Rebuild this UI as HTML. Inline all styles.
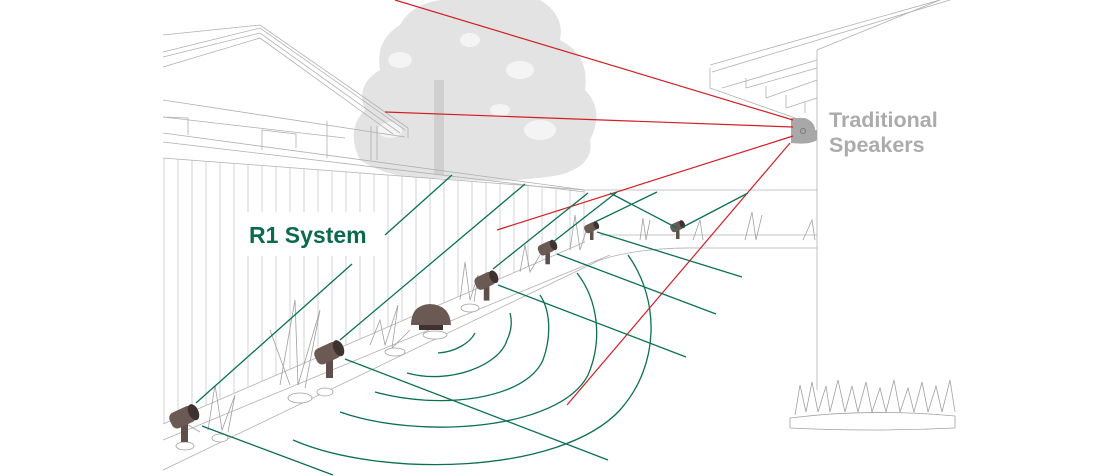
<!DOCTYPE html>
<html><head><meta charset="utf-8"><style>
html,body{margin:0;padding:0;background:#fff;}
svg{display:block;}
</style></head><body>
<svg width="1110" height="476" viewBox="0 0 1110 476" xmlns="http://www.w3.org/2000/svg">
<defs>
<pattern id="planks" x="163" y="0" width="14" height="476" patternUnits="userSpaceOnUse">
<line x1="1" y1="0" x2="1" y2="476" stroke="#c0c0c0" stroke-width="0.7"/>
</pattern>
<clipPath id="fc"><polygon points="163,158 585,190 585,242 163,424"/></clipPath>
<g id="spk">
<rect x="-4" y="0" width="7" height="22" fill="#5e4f4a"/>
<g transform="rotate(-25)"><rect x="-14" y="-12" width="26" height="17" rx="6" fill="#6b5a54"/>
<ellipse cx="11" cy="-3.5" rx="5" ry="8.5" fill="#3e3230"/></g>
</g>
</defs>
<!-- tree -->
<g fill="#e3e3e3">
<path d="M360,160 Q345,130 365,110 Q355,85 380,70 Q375,40 400,25 Q410,5 440,0 L540,0 Q565,15 560,40 Q590,55 585,90 Q605,110 590,140 Q595,165 560,175 Q500,185 440,178 Q390,180 360,160 Z"/>
</g>
<g fill="#f4f4f4">
<ellipse cx="400" cy="60" rx="12" ry="8"/><ellipse cx="520" cy="70" rx="14" ry="9"/>
<ellipse cx="470" cy="40" rx="10" ry="7"/><ellipse cx="540" cy="130" rx="16" ry="10"/>
<ellipse cx="390" cy="130" rx="12" ry="8"/><ellipse cx="500" cy="110" rx="10" ry="6"/>
</g>
<rect x="434" y="80" width="10" height="95" fill="#d0d0d0"/>
<!-- house left -->
<g stroke="#b0b0b0" stroke-width="0.8" fill="none">
<polyline points="163,35 260,25 408,128 408,138"/>
<polyline points="163,52 260,28 405,130"/>
<polyline points="163,57 260,33 400,133"/>
<polyline points="163,67 260,38 393,134"/>
<line x1="163" y1="100" x2="405" y2="137"/>
<line x1="163" y1="117" x2="345" y2="138"/>
<polyline points="163,117 188,118 188,135"/>
<polyline points="262,150 262,130 296,134 296,148"/>
<line x1="327" y1="121" x2="327" y2="158"/>
<line x1="371" y1="126" x2="371" y2="160"/>
<line x1="377" y1="126" x2="377" y2="160"/>
<line x1="163" y1="133" x2="585" y2="190"/>
<line x1="163" y1="142" x2="585" y2="192"/>
<line x1="163" y1="158" x2="585" y2="190"/>
<line x1="163" y1="424" x2="585" y2="242"/>
<line x1="163" y1="440" x2="610" y2="255"/>
<path d="M163,470 L600,260 Q640,247 700,248 L817,248"/>
<line x1="585" y1="190" x2="817" y2="190"/>
<line x1="600" y1="235" x2="817" y2="235"/>
<line x1="817" y1="50" x2="817" y2="390"/>
<polyline points="710,65 940,0"/>
<polyline points="710,68 710,88 795,118"/>
<polyline points="712,72 950,0"/>
<line x1="817" y1="50" x2="940" y2="0"/>
<line x1="722" y1="88" x2="817" y2="60"/>
<line x1="746" y1="88" x2="817" y2="68"/>
<line x1="766" y1="98" x2="817" y2="80"/>
<line x1="786" y1="108" x2="817" y2="98"/>
<line x1="746" y1="78" x2="746" y2="88"/>
<line x1="766" y1="86" x2="766" y2="98"/>
<line x1="786" y1="95" x2="786" y2="108"/>
<line x1="805" y1="102" x2="805" y2="113"/>
</g>
<rect x="163" y="150" width="425" height="290" fill="url(#planks)" clip-path="url(#fc)"/>
<!-- plants -->
<g stroke="#a0a0a0" stroke-width="0.8" fill="#fff">
<path d="M280,385 L295,300 L298,385 L320,310 L305,388 M290,385 L270,330" fill="none"/>
<path d="M208,430 L215,385 L222,430 L235,395 L228,432 M200,432 L180,420" fill="none"/>
<path d="M370,345 L380,320 L385,345 L398,305 L392,348 L410,330" fill="none"/>
<path d="M460,300 L465,262 L470,300 L478,275 L474,302" fill="none"/>
<path d="M520,272 L525,245 L530,272 L540,255" fill="none"/>
<path d="M570,250 L575,215 L580,250 L588,225" fill="none"/>
<path d="M640,240 L643,218 L646,240 L650,220 M693,240 L700,220 L703,240 M745,240 L752,212 L756,240 L762,215 M803,240 L812,220 L815,240" fill="none"/>
<ellipse cx="185" cy="446" rx="9" ry="4"/><ellipse cx="220" cy="438" rx="8" ry="4"/>
<ellipse cx="300" cy="398" rx="12" ry="5"/><ellipse cx="325" cy="392" rx="8" ry="4"/>
<ellipse cx="395" cy="352" rx="10" ry="4"/><ellipse cx="435" cy="335" rx="12" ry="4"/>
<ellipse cx="470" cy="308" rx="9" ry="4"/>
<path d="M795,415 L800,385 L806,412 L812,382 L818,412 L826,386 L830,412 L838,380 L845,412 L852,386 L858,412 L866,382 L872,412 L880,388 L886,412 L894,380 L900,412 L908,388 L914,412 L922,382 L928,412 L936,386 L942,412 L950,380 L955,412" fill="none"/>
<path d="M790,418 Q870,408 955,416 L955,428 Q870,432 790,428 Z"/>
</g>
<use href="#spk" transform="translate(185,420)"/>
<use href="#spk" transform="translate(330,356)"/>
<use href="#spk" transform="translate(487,283) scale(0.8)"/>
<use href="#spk" transform="translate(548,250) scale(0.65)"/>
<use href="#spk" transform="translate(592,229) scale(0.5)"/>
<use href="#spk" transform="translate(678,228) scale(0.5)"/>
<path d="M411,325 Q411,305 430,304 Q450,305 451,325 Z" fill="#6b5a54"/>
<rect x="419" y="325" width="24" height="5" fill="#3e3230"/>
<path d="M791,118 L805,118 Q815,122 815,130 L817,130 L817,140 Q810,145 791,143 Z" fill="#a8a8a8"/>
<circle cx="803" cy="131" r="2.5" fill="none" stroke="#777"/>
<g stroke="#d21f26" stroke-width="1.2">
<line x1="793" y1="120" x2="395" y2="0"/>
<line x1="793" y1="127" x2="385" y2="112"/>
<line x1="793" y1="136" x2="497" y2="230"/>
<line x1="790" y1="143" x2="567" y2="405"/>
</g>
<g stroke="#0b7052" stroke-width="1.3" fill="none">
<line x1="196" y1="403" x2="352" y2="264"/>
<line x1="385" y1="235" x2="452" y2="175"/>
<line x1="340" y1="340" x2="525" y2="184"/>
<line x1="493" y1="269" x2="588" y2="193"/>
<line x1="553" y1="242" x2="617" y2="192"/>
<line x1="595" y1="222" x2="657" y2="192"/>
<line x1="610" y1="193" x2="677" y2="228"/>
<line x1="683" y1="227" x2="748" y2="193"/>
<line x1="202" y1="426" x2="333" y2="475"/>
<line x1="345" y1="359" x2="608" y2="460"/>
<line x1="498" y1="285" x2="686" y2="357"/>
<line x1="557" y1="254" x2="716" y2="314"/>
<line x1="597" y1="232" x2="742" y2="277"/>
<path d="M438,353 C455,352 470,343 475,333"/>
<path d="M407,373 C450,385 500,365 507,340 C512,330 512,320 510,313"/>
<path d="M375,392 C440,410 525,400 543,360 C552,335 550,310 540,295"/>
<path d="M340,412 C420,440 560,430 588,375 C603,340 598,300 577,273"/>
<path d="M293,440 C380,478 560,475 620,410 C660,365 660,300 628,255"/>
</g>
<rect x="240" y="212" width="140" height="44" fill="#fff"/>
<text x="249" y="243" font-family="Liberation Sans, sans-serif" font-weight="bold" font-size="23" fill="#0b6a4e">R1 System</text>
<text x="829" y="127" font-family="Liberation Sans, sans-serif" font-weight="bold" font-size="21.5" fill="#ababab">Traditional</text>
<text x="829" y="152" font-family="Liberation Sans, sans-serif" font-weight="bold" font-size="21.5" fill="#ababab">Speakers</text>
</svg>
</body></html>
